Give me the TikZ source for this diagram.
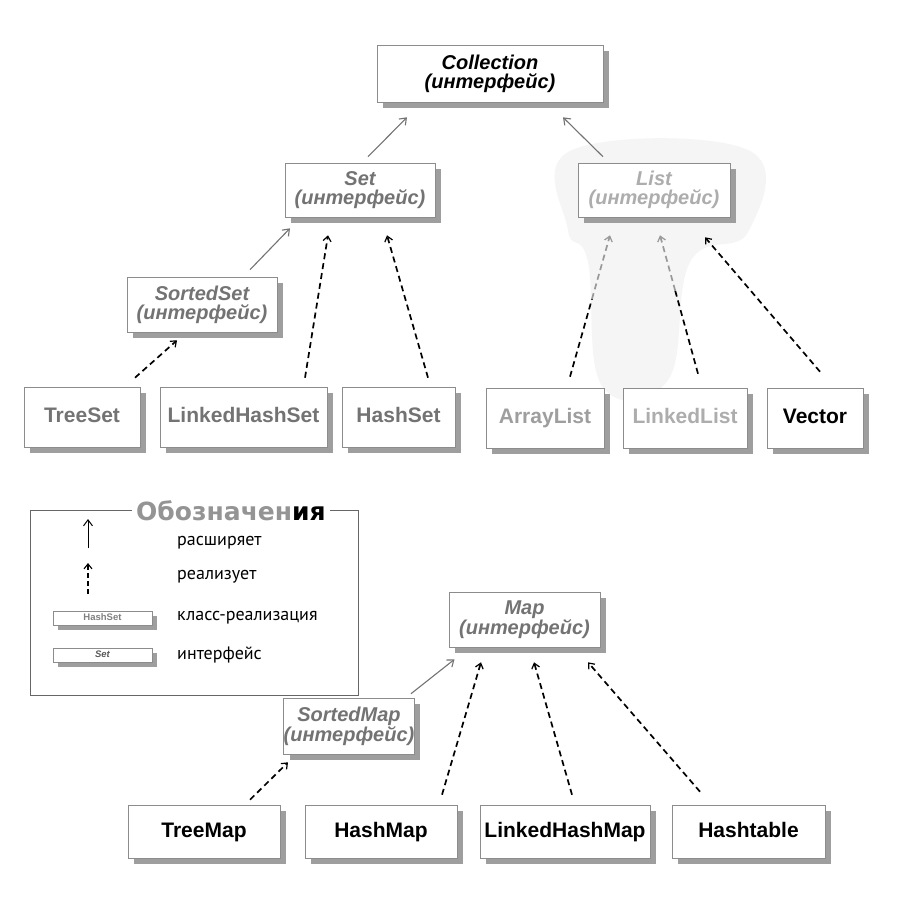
\documentclass[tikz,border=0pt]{standalone}
\usepackage{fontspec}
\setmainfont{Liberation Sans}
\newfontfamily\legfont{PT Sans}
\newfontfamily\ttlfont{DejaVu Sans}
\usetikzlibrary{shadows,calc,arrows.meta}
\begin{document}
\begin{tikzpicture}[x=1pt,y=-1pt,
  box/.style={draw=black!45, line width=0.6pt, fill=white,
    general shadow={fill=black!38, shadow xshift=6pt, shadow yshift=-6pt},
    inner sep=0pt, align=center},
  iface/.style={box, font=\fontsize{20}{19}\selectfont\bfseries\itshape},
  cls/.style={box, font=\fontsize{21}{21}\selectfont\bfseries, text height=15pt, text depth=4pt},
  ext/.style={draw=black!55, line width=1.1pt, -{Straight Barb[length=6pt,width=9pt]}},
  impl/.style={draw=black, line width=1.7pt, dash pattern=on 6pt off 4pt,
    -{Straight Barb[length=5pt,width=8pt,line width=1.2pt]}},
  implg/.style={impl, draw=black!40},
  implb/.style={draw=black, line width=1.7pt, dash pattern=on 6pt off 4pt},
  legtxt/.style={anchor=west, inner sep=0pt, font=\legfont\fontsize{18}{18}\selectfont},
  minibox/.style={draw=black!45, line width=0.5pt, fill=white,
    general shadow={fill=black!38, shadow xshift=5pt, shadow yshift=-5pt},
    inner sep=0pt, minimum width=99pt, minimum height=14pt, text height=7pt, text depth=1.5pt},
]
\useasboundingbox (0,0) rectangle (909,900);
\fill[white] (0,0) rectangle (909,900);

% faint background fog around List
\fill[black!4] plot[smooth cycle, tension=0.7] coordinates
  {(572,150) (748,150) (748,232) (690,262) (668,380) (602,386) (588,262) (568,230)};

% ---------- Collection hierarchy ----------
\node[iface, minimum width=226pt, minimum height=57pt] (coll) at (490,73.5) {Collection\\(интерфейс)};
\node[iface, text=black!55, minimum width=150pt, minimum height=54pt] (set) at (360,190) {Set\\(интерфейс)};
\node[iface, text=black!32, minimum width=152pt, minimum height=54pt] (list) at (654,190) {List\\(интерфейс)};
\node[iface, text=black!55, minimum width=150pt, minimum height=55pt] (sset) at (202,304.5) {SortedSet\\(интерфейс)};

\node[cls, text=black!55, minimum width=116pt, minimum height=60pt] (treeset) at (82,417) {TreeSet};
\node[cls, text=black!55, minimum width=167pt, minimum height=60pt] (lhset) at (243.5,417) {LinkedHashSet};
\node[cls, text=black!55, minimum width=113pt, minimum height=60pt] (hashset) at (398.5,417) {HashSet};
\node[cls, text=black!38, minimum width=118pt, minimum height=60pt] (arraylist) at (545,418) {ArrayList};
\node[cls, text=black!32, minimum width=124pt, minimum height=60pt] (linkedlist) at (685,418) {LinkedList};
\node[cls, minimum width=96pt, minimum height=60pt] (vector) at (815,418) {Vector};

\draw[ext] ($(set.north)+(8,-6)$) -- ($(coll.south)+(-83,15)$);
\draw[ext] ($(list.north)+(-51,-6)$) -- ($(coll.south)+(73,15)$);
\draw[ext] ($(sset.north)+(48,-7)$) -- ($(set.south)+(-70,11)$);

\draw[impl] ($(treeset.north)+(53,-9)$) -- ($(sset.south)+(-25,8)$);
\draw[impl] ($(lhset.north)+(61.5,-9)$) -- ($(set.south)+(-32,18)$);
\draw[impl] ($(hashset.north)+(29.5,-9)$) -- ($(set.south)+(27,18)$);

\coordinate (alm) at ($($(arraylist.north)+(25,-11)$)!0.55!($(list.south)+(-44,18)$)$);
\draw[implb] ($(arraylist.north)+(25,-11)$) -- (alm);
\draw[implg] (alm) -- ($(list.south)+(-44,18)$);
\coordinate (llm) at ($($(linkedlist.north)+(13,-14)$)!0.6!($(list.south)+(6,18)$)$);
\draw[implb] ($(linkedlist.north)+(13,-14)$) -- (llm);
\draw[implg] (llm) -- ($(list.south)+(6,18)$);
\draw[impl] ($(vector.north)+(5,-16)$) -- ($(list.south)+(51,20)$);

% ---------- Legend ----------
\draw[draw=black!60, line width=0.6pt] (30,510) rectangle (358,695);
\node[fill=white, inner xsep=4pt, inner ysep=1pt, font=\ttlfont\bfseries\fontsize{25}{25}\selectfont] (legtitle) at (231,511) {\textcolor{black!42}{Обозначен}ия};
\coordinate (l1a) at (88,548);
\coordinate (l1b) at (88,519);
\draw[draw=black, line width=1pt, -{Straight Barb[length=6pt,width=9pt]}] (l1a) -- (l1b);
\coordinate (l2a) at (88,594);
\coordinate (l2b) at (88,563);
\draw[draw=black, line width=1.6pt, dash pattern=on 5pt off 3pt, -{Straight Barb[length=5pt,width=8pt,line width=1.1pt]}] (l2a) -- (l2b);
\node[legtxt] (t1) at (177,543) {расширяет};
\node[legtxt] (t2) at (177,577) {реализует};
\node[minibox, font=\fontsize{9.5}{9.5}\selectfont\bfseries, text=black!50] (lhs) at (102.5,618) {HashSet};
\node[legtxt] (t3) at (177,618) {класс-реализация};
\node[minibox, font=\fontsize{9.5}{9.5}\selectfont\bfseries\itshape, text=black!65] (lset) at (102.5,655) {Set};
\node[legtxt] (t4) at (177,655) {интерфейс};

% ---------- Map hierarchy ----------
\node[iface, text=black!55, minimum width=151pt, minimum height=55pt] (map) at (524.5,619.5) {Map\\(интерфейс)};
\node[iface, text=black!55, minimum width=130pt, minimum height=56pt] (smap) at (349,726) {SortedMap\\(интерфейс)};

\node[cls, minimum width=152pt, minimum height=53pt] (treemap) at (204,831.5) {TreeMap};
\node[cls, minimum width=152pt, minimum height=53pt] (hashmap) at (381,831.5) {HashMap};
\node[cls, minimum width=170pt, minimum height=53pt] (lhmap) at (565,831.5) {LinkedHashMap};
\node[cls, minimum width=153pt, minimum height=53pt] (hashtable) at (748.5,831.5) {Hashtable};

\draw[ext] ($(smap.north)+(62,-4)$) -- ($(map.south)+(-70,12)$);
\draw[impl] ($(treemap.north)+(46,-5)$) -- ($(smap.south)+(-61,8)$);
\draw[impl] ($(hashmap.north)+(61,-10)$) -- ($(map.south)+(-43.5,15)$);
\draw[impl] ($(lhmap.north)+(7,-10)$) -- ($(map.south)+(9.5,15)$);
\draw[impl] ($(hashtable.north)+(-48.5,-13)$) -- ($(map.south)+(63.5,15)$);
\end{tikzpicture}
\end{document}
